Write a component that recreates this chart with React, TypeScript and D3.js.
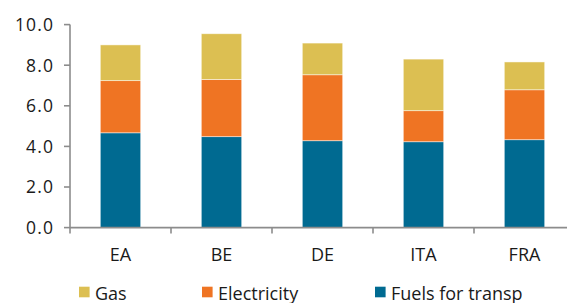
import * as d3 from 'd3';

const categories = ['EA', 'BE', 'DE', 'ITA', 'FRA'];
const fuels = [4.67, 4.48, 4.28, 4.23, 4.33];
const electricity = [2.57, 2.82, 3.25, 1.53, 2.46];
const gas = [1.76, 2.25, 1.56, 2.54, 1.37];
const yTicks = [0, 2, 4, 6, 8, 10];

const seriesNames = ['Fuels for transp', 'Electricity', 'Gas'];
const seriesColors = ['#006a91', '#ef7423', '#dcbf52'];
const legendOrder = ['Gas', 'Electricity', 'Fuels for transp'];

const WIDTH = 567;
const HEIGHT = 303;
const AXIS_X = 70;
const AXIS_COLOR = '#8c8c8c';
const FONT = '"Open Sans", "Noto Sans", sans-serif';

const App = () => {
  const rows = categories.map((c, i) => ({
    cat: c,
    'Fuels for transp': fuels[i],
    Electricity: electricity[i],
    Gas: gas[i],
  }));
  const stacked = d3.stack<any>().keys(seriesNames)(rows);

  const xScale = d3
    .scaleBand()
    .domain(categories)
    .range([AXIS_X, 575])
    .paddingInner(0.6)
    .paddingOuter(0.3);

  const yScale = d3.scaleLinear().domain([0, 10]).range([227.6, 24.6]);
  const colorScale = d3.scaleOrdinal<string>().domain(seriesNames).range(seriesColors);

  const step = xScale.step();
  const boundaries = categories.map((c) => (xScale(c) ?? 0) - step * 0.3);
  const legendX = [79, 202, 375];

  return (
    <svg
      width={WIDTH}
      height={HEIGHT}
      style={{ position: 'absolute', left: 0, top: 0, background: '#fff' }}
      fontFamily={FONT}
    >
      {/* bars */}
      {stacked.map((layer) => (
        <g key={layer.key} fill={colorScale(layer.key)}>
          {layer.map((d, i) => (
            <rect
              key={i}
              x={xScale(categories[i])}
              y={yScale(d[1])}
              width={xScale.bandwidth()}
              height={yScale(d[0]) - yScale(d[1])}
              stroke="#ffffff"
              strokeOpacity={0.6}
              strokeWidth={0.8}
            />
          ))}
        </g>
      ))}

      {/* y axis */}
      <line x1={AXIS_X} x2={AXIS_X} y1={yScale(10)} y2={yScale(0)} stroke={AXIS_COLOR} strokeWidth={1.6} />
      {yTicks.map((t) => (
        <g key={t} transform={`translate(0,${yScale(t)})`}>
          <line x1={AXIS_X - 6} x2={AXIS_X} stroke={AXIS_COLOR} strokeWidth={1.6} />
          <text x={54} dy="0.36em" textAnchor="end" fontSize={17.5} letterSpacing={1.1} fill="#1a1a1a">
            {t.toFixed(1)}
          </text>
        </g>
      ))}

      {/* x axis */}
      <line x1={AXIS_X} x2={580} y1={yScale(0)} y2={yScale(0)} stroke={AXIS_COLOR} strokeWidth={1.6} />
      {boundaries.map((b, i) => (
        <line key={i} x1={b} x2={b} y1={yScale(0)} y2={yScale(0) + 6} stroke={AXIS_COLOR} strokeWidth={1.6} />
      ))}
      {categories.map((c) => (
        <text
          key={c}
          x={(xScale(c) ?? 0) + xScale.bandwidth() / 2}
          y={260.5}
          textAnchor="middle"
          fontSize={18}
          fill="#1a1a1a"
        >
          {c}
        </text>
      ))}

      {/* legend */}
      {legendOrder.map((name, i) => (
        <g key={name} transform={`translate(${legendX[i]},0)`}>
          <rect x={0} y={286.7} width={10.6} height={10.6} fill={colorScale(name)} />
          <text x={16} y={300} fontSize={18} fill="#1a1a1a">
            {name}
          </text>
        </g>
      ))}
    </svg>
  );
};

export default App;
